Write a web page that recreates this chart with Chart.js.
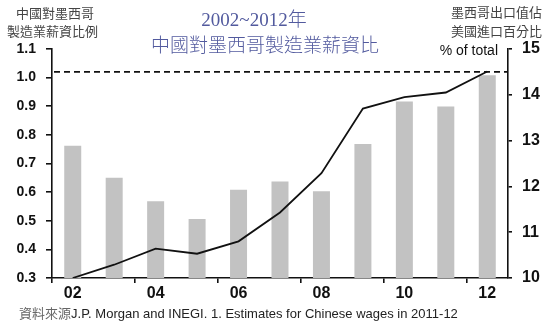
<!DOCTYPE html>
<html>
<head>
    <meta charset="UTF-8">
    <title>中國對墨西哥製造業薪資比</title>
    <script src="https://cdn.jsdelivr.net/npm/chart.js"></script>
    <style>
        body { margin: 0; background: #fff; }
        #wrap { position: relative; width: 553px; height: 323px; }
        #wrap canvas { position: absolute; left: 0; top: 0; }
        .txt { position: absolute; white-space: nowrap; }
        .cap { font-family: "Noto Sans CJK TC", sans-serif; font-size: 13px; line-height: 13px; color: #444; text-align: center; }
        .title { font-family: "Liberation Serif", "Noto Sans CJK TC", serif; font-size: 19px; line-height: 19px; color: #525a9e; font-weight: 300; transform: translateX(-50%); }
    </style>
</head>
<body>
<div id="wrap">
    <canvas id="wageChart" width="553" height="323"></canvas>
    <div class="txt cap" style="left:16px; top:6px;">中國對墨西哥</div>
    <div class="txt cap" style="left:7px; top:24px;">製造業薪資比例</div>
    <div class="txt cap" style="right:11px; top:5px;">墨西哥出口值佔</div>
    <div class="txt cap" style="right:11px; top:24px;">美國進口百分比</div>
    <div class="txt title" style="left:254px; top:10px;">2002~2012年</div>
    <div class="txt title" style="left:265px; top:36px;">中國對墨西哥製造業薪資比</div>
    <div class="txt" style="right:55px; top:42px; font-family:'Liberation Sans',Arial,sans-serif; font-size:14px; color:#111;">% of total</div>
    <div class="txt" style="left:19px; top:303px; font-family:'Liberation Sans','Noto Sans CJK TC',sans-serif; font-size:13px; color:#222;"><span style="font-family:'Noto Sans CJK TC'; color:#666;">資料來源</span>J.P. Morgan and INEGI. 1. Estimates for Chinese wages in 2011-12</div>
</div>
<script>
    // 年份 (2002-2012)
    var years = ['02', '03', '04', '05', '06', '07', '08', '09', '10', '11', '12'];
    // 中國對墨西哥製造業薪資比例 (左軸)
    var wageRatio = [0.762, 0.650, 0.568, 0.506, 0.608, 0.637, 0.603, 0.768, 0.917, 0.899, 1.008];
    // 墨西哥出口值佔美國進口百分比 (右軸, % of total)
    var exportShare = [10.0, 10.29, 10.64, 10.53, 10.80, 11.43, 12.29, 13.70, 13.95, 14.05, 14.51];
    // 左軸 / 右軸 範圍
    var leftTicks = { min: 0.3, max: 1.1, step: 0.1 };
    var rightTicks = { min: 10, max: 15, step: 1 };
    var parityLevel = 1.02;

    var tickFont = "'Liberation Sans', Arial, sans-serif";

    // 1.0 虛線
    var parityLine = {
        id: 'parityLine',
        afterDatasetsDraw: function (chart) {
            var c = chart.ctx, a = chart.chartArea;
            var y = chart.scales.y.getPixelForValue(parityLevel);
            c.save();
            c.strokeStyle = '#111';
            c.lineWidth = 1.6;
            c.setLineDash([6, 4]);
            c.beginPath();
            c.moveTo(a.left + 2, y);
            c.lineTo(a.right, y);
            c.stroke();
            c.restore();
        }
    };

    var ctx = document.getElementById('wageChart').getContext('2d');
    var chart = new Chart(ctx, {
        data: {
            labels: years,
            datasets: [{
                type: 'line',
                data: exportShare,
                yAxisID: 'y1',
                borderColor: '#111',
                borderWidth: 1.8,
                pointRadius: 0,
                tension: 0,
                order: 0
            }, {
                type: 'bar',
                data: wageRatio,
                yAxisID: 'y',
                backgroundColor: '#c2c2c2',
                categoryPercentage: 1,
                barPercentage: 0.41,
                order: 1
            }]
        },
        options: {
            responsive: false,
            animation: false,
            layout: { padding: { top: 49, left: 0, right: 0, bottom: 0 } },
            plugins: { legend: { display: false }, tooltip: { enabled: false } },
            scales: {
                x: {
                    offset: true,
                    afterFit: function (s) { s.height = 45; },
                    border: { color: '#111', width: 1.6 },
                    grid: {
                        offset: true,
                        drawOnChartArea: false,
                        tickLength: 5,
                        lineWidth: 1.6,
                        tickColor: function (c) { return c.index % 2 === 0 ? '#111' : 'rgba(0,0,0,0)'; }
                    },
                    ticks: {
                        autoSkip: false,
                        maxRotation: 0,
                        padding: 1,
                        color: '#111',
                        font: { family: tickFont, size: 16, weight: 'bold' },
                        callback: function (v, i) { return i % 2 === 0 ? years[i] : ''; }
                    }
                },
                y: {
                    position: 'left',
                    min: leftTicks.min,
                    max: leftTicks.max,
                    afterFit: function (s) { s.width = 52; },
                    border: { color: '#111', width: 1.6 },
                    grid: { drawOnChartArea: false, tickLength: 6, lineWidth: 1.6, tickColor: '#111' },
                    ticks: {
                        stepSize: leftTicks.step,
                        padding: 10,
                        color: '#111',
                        font: { family: tickFont, size: 14, weight: 'bold' },
                        callback: function (v) { return v.toFixed(1); }
                    }
                },
                y1: {
                    position: 'right',
                    min: rightTicks.min,
                    max: rightTicks.max,
                    afterFit: function (s) { s.width = 45; },
                    border: { color: '#111', width: 1.6 },
                    grid: { drawOnChartArea: false, tickLength: 4, lineWidth: 1.6, tickColor: '#111' },
                    ticks: {
                        stepSize: rightTicks.step,
                        padding: 10,
                        color: '#111',
                        font: { family: tickFont, size: 16, weight: 'bold' }
                    }
                }
            }
        },
        plugins: [parityLine]
    });
</script>
</body>
</html>
